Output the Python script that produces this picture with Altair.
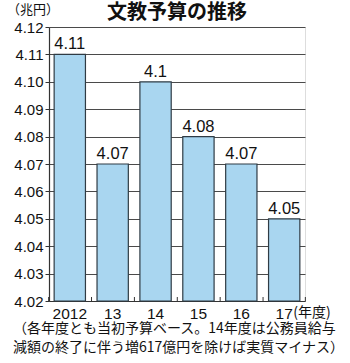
import altair as alt
import pandas as pd

years = ["2012", "13", "14", "15", "16", "17"]
values = [4.11, 4.07, 4.10, 4.08, 4.07, 4.05]
value_labels = ["4.11", "4.07", "4.1", "4.08", "4.07", "4.05"]
y_ticks = [4.02, 4.03, 4.04, 4.05, 4.06, 4.07, 4.08, 4.09, 4.10, 4.11, 4.12]

title_text = "文教予算の推移"
unit_text = "（兆円）"
year_unit = "(年度)"
note_lines = ["（各年度とも当初予算ベース。14年度は公務員給与",
              "減額の終了に伴う増617億円を除けば実質マイナス）"]

FONT = "Noto Sans CJK JP"
NUM = "Liberation Sans"
df = pd.DataFrame({"year": years, "value": values, "label": value_labels, "base": [4.02] * len(years)})

xscale = alt.Scale(domain=years, paddingInner=0.27, paddingOuter=0.12)
yscale = alt.Scale(domain=[4.02, 4.12], nice=False, zero=False)

xaxis = alt.Axis(labelAngle=0, labelFont=NUM, labelFontSize=15.5, labelColor="#111",
                 ticks=False, domain=True, domainColor="#333", domainWidth=1.2,
                 labelPadding=5, title=None)
yaxis = alt.Axis(values=y_ticks, format=".2f", labelFont=NUM, labelFontSize=15,
                 labelColor="#111", grid=True, gridColor="#4a4a4a", gridWidth=1,
                 tickColor="#333", tickSize=4, domainColor="#333", domainWidth=1.2,
                 labelPadding=2, labelOverlap=False, labelFlush=False, title=None)

def X(**kw):
    return alt.X("year:N", scale=xscale, sort=years, axis=xaxis, **kw)

def Y():
    return alt.Y("value:Q", scale=yscale, axis=yaxis)

base = alt.Chart(df)

bars = base.mark_bar(fill="#a9d6f0", stroke="#2f3b44", strokeWidth=1.2).encode(
    x=X(), y=Y(), y2="base:Q",
)

labels = base.mark_text(font=NUM, fontSize=16.5, color="#111",
                        baseline="bottom", dy=-2).encode(
    x=X(), y=Y(), text="label:N",
)

xticks = base.mark_rule(color="#333", strokeWidth=1, xOffset=-5.5).encode(
    x=X(bandPosition=0), y=alt.value(270), y2=alt.value(274),
)
xtick_end = base.transform_filter(alt.datum.year == "17").mark_rule(
    color="#333", strokeWidth=1, xOffset=5.5).encode(
    x=X(bandPosition=1), y=alt.value(270), y2=alt.value(274),
)

year_unit_df = pd.DataFrame({"year": ["17"], "t": [year_unit]})
year_unit_mark = alt.Chart(year_unit_df).mark_text(font=FONT, fontSize=14, color="#111",
                                                   align="left", baseline="middle", dx=9).encode(
    x=X(), y=alt.value(286), text="t:N",
)

title_mark = alt.Chart(pd.DataFrame({"t": [title_text]})).mark_text(
    font=FONT, fontSize=20, fontWeight="bold", color="#111",
    align="center", baseline="middle").encode(
    x=alt.value(128), y=alt.value(-14), text="t:N")

unit_mark = alt.Chart(pd.DataFrame({"t": [unit_text]})).mark_text(
    font=FONT, fontSize=13, color="#111", align="left", baseline="middle").encode(
    x=alt.value(-42), y=alt.value(-17), text="t:N")

note1 = alt.Chart(pd.DataFrame({"t": [note_lines[0]]})).mark_text(
    font=FONT, fontSize=14, color="#111", align="left", baseline="middle").encode(
    x=alt.value(-36), y=alt.value(302), text="t:N")
note2 = alt.Chart(pd.DataFrame({"t": [note_lines[1]]})).mark_text(
    font=FONT, fontSize=14, color="#111", align="left", baseline="middle").encode(
    x=alt.value(-36), y=alt.value(321), text="t:N")

chart = alt.layer(bars, labels, xticks, xtick_end, year_unit_mark, title_mark, unit_mark, note1, note2).properties(
    width=256, height=274,
    autosize=alt.AutoSizeParams(type="none"),
    padding={"left": 49, "top": 27, "right": 45, "bottom": 62},
).configure_view(stroke=None).configure(background="white")

chart.save("out.html", embed_options={"renderer": "svg", "actions": False})
